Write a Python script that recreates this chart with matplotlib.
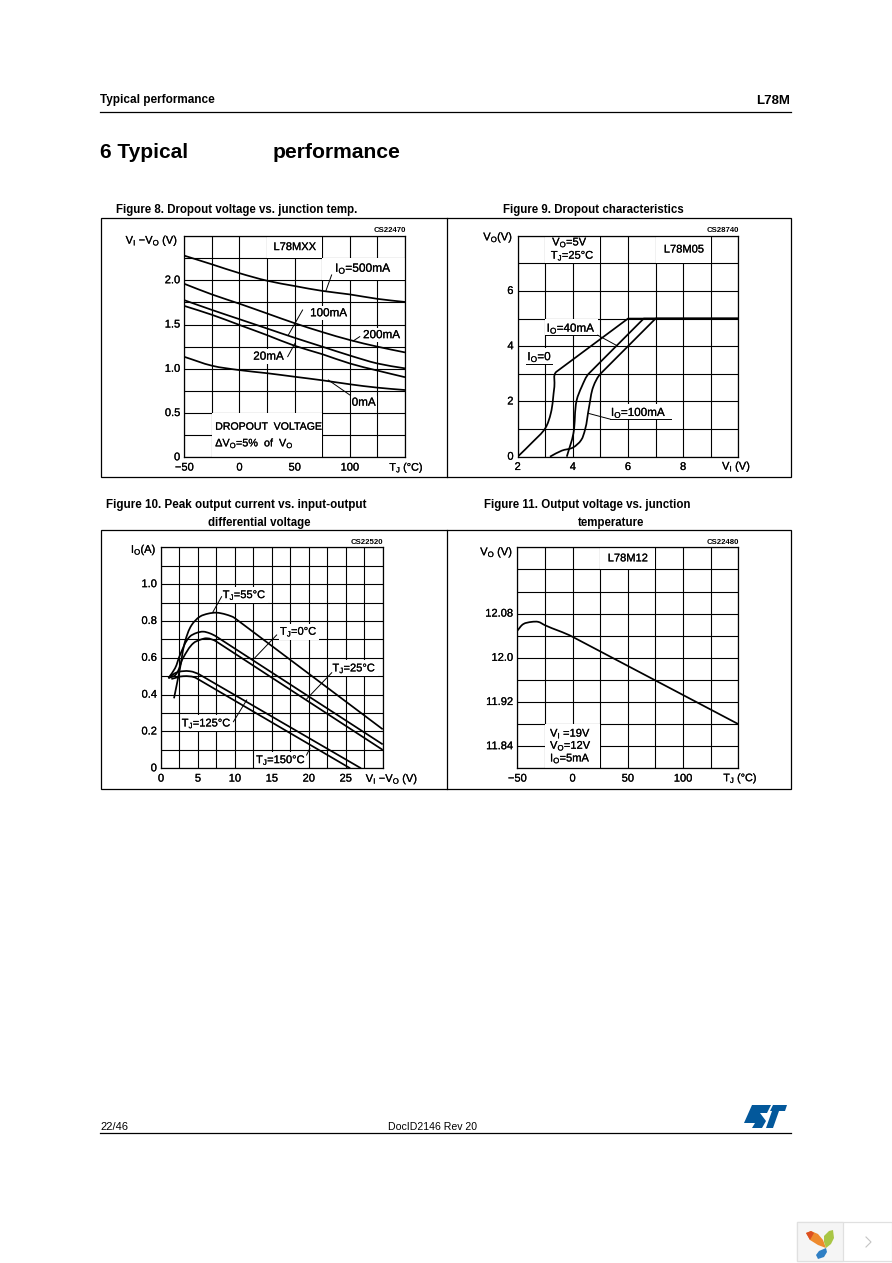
import matplotlib
matplotlib.use("Agg")
import matplotlib.pyplot as plt
import matplotlib.patheffects as pe
import numpy as np
from matplotlib.path import Path
from matplotlib.patches import Rectangle, Polygon, PathPatch

plt.rcParams["font.family"] = ["Liberation Sans", "DejaVu Sans"]
plt.rcParams["mathtext.default"] = "regular"

W, H = 892, 1263
HEAVY = [pe.withStroke(linewidth=0.15, foreground="black")]

# Figure 8
f8_x = [-50, -25, 0, 25, 50, 75, 100, 125, 150]
f8_500 = [2.278, 2.18, 2.08, 1.995, 1.935, 1.88, 1.84, 1.79, 1.755]
f8_200 = [1.96, 1.84, 1.735, 1.625, 1.515, 1.415, 1.325, 1.25, 1.185]
f8_100 = [1.775, 1.665, 1.56, 1.455, 1.35, 1.25, 1.15, 1.06, 1.005]
f8_20 = [1.71, 1.61, 1.495, 1.38, 1.26, 1.165, 1.06, 0.98, 0.905]
f8_0 = [1.135, 1.035, 0.985, 0.95, 0.91, 0.87, 0.825, 0.787, 0.76]

# Figure 9
f9_0_x = [2, 2.53, 3.0, 3.2, 3.33, 3.41, 6, 10]
f9_0_y = [0, 0.52, 1.03, 1.57, 2.53, 3.08, 5, 5]
f9_40_x = [3.78, 4.02, 4.14, 4.32, 4.59, 6.57, 10]
f9_40_y = [0, 0.84, 2.05, 2.53, 3.02, 5, 5]
f9_100_x = [3.17, 3.6, 4.0, 4.3, 4.44, 4.59, 4.74, 5.02, 7, 10]
f9_100_y = [0, 0.22, 0.33, 0.6, 0.97, 1.81, 2.53, 3.02, 5, 5]

# Figure 10
f10_55_x = [1.76, 2.57, 3.25, 4.15, 5.28, 6.4, 7.5, 8.8, 10, 30]
f10_55_y = [0.38, 0.543, 0.688, 0.778, 0.824, 0.84, 0.845, 0.835, 0.815, 0.212]
f10_0_x = [1, 1.9, 2.57, 3.9, 4.8, 5.7, 6.6, 7.5, 30]
f10_0_y = [0.49, 0.543, 0.615, 0.715, 0.735, 0.742, 0.733, 0.715, 0.13]
f10_25_x = [1, 1.9, 3, 4.4, 5.3, 6.2, 7.5, 30]
f10_25_y = [0.49, 0.505, 0.6, 0.68, 0.698, 0.706, 0.688, 0.1]
f10_125_x = [1, 2.1, 3.9, 5.3, 27.07]
f10_125_y = [0.49, 0.52, 0.527, 0.507, 0]
f10_150_x = [1.4, 3, 4.8, 25.6]
f10_150_y = [0.485, 0.5, 0.489, 0]

# Figure 11
f11_x = [-50, -44.6, -37, -31, -25, 0, 150]
f11_y = [12.049, 12.061, 12.065, 12.065, 12.059, 12.038, 11.88]

fig = plt.figure(figsize=(W / 100, H / 100), dpi=100)

# page layer, in pixels
page = fig.add_axes([0, 0, 1, 1])
page.set_xlim(0, W)
page.set_ylim(H, 0)
page.axis("off")


def chart(x0, y0, x1, y1, xlim, ylim, xstep, ystep, xticks, xlabels, yticks, ylabels):
    ax = fig.add_axes([x0 / W, 1 - y1 / H, (x1 - x0) / W, (y1 - y0) / H])
    ax.patch.set_alpha(0)
    ax.set_xlim(*xlim)
    ax.set_ylim(*ylim)
    nx = round((xlim[1] - xlim[0]) / xstep)
    ny = round((ylim[1] - ylim[0]) / ystep)
    ax.set_xticks([xlim[0] + i * xstep for i in range(nx + 1)])
    ax.set_yticks([ylim[0] + i * ystep for i in range(ny + 1)])
    ax.set_xticklabels([])
    ax.set_yticklabels([])
    ax.tick_params(length=0)
    ax.grid(True, color="black", lw=0.8, zorder=1)
    ax.set_axisbelow(True)
    for s in ax.spines.values():
        s.set_linewidth(0.9)
        s.set_zorder(5)
    for t, l in zip(xticks, xlabels):
        ax.annotate(l, (t, ylim[0]), xytext=(0, -7.4), textcoords="offset points", ha="center", va="center",
                    fontsize=8, annotation_clip=False, path_effects=HEAVY)
    for t, l in zip(yticks, ylabels):
        ax.annotate(l, (xlim[0], t), xytext=(-3, 0), textcoords="offset points", ha="right", va="center",
                    fontsize=8, annotation_clip=False, path_effects=HEAVY)
    return ax


def mask(ax, x0, x1, y0, y1):
    ax.add_patch(Rectangle((x0, y0), x1 - x0, y1 - y0, fc="white", ec="none", zorder=2))


def label(ax, x, y, s, size=8.4, ha="left", box=True):
    kw = {}
    if box:
        kw["bbox"] = dict(fc="white", ec="none", pad=0.8)
    ax.text(x, y, s, fontsize=size, ha=ha, va="center", zorder=4, path_effects=HEAVY, clip_on=False, **kw)


def curve(ax, x, y):
    # rounded through the read points, long straight runs stay straight
    p = ax.transAxes.inverted().transform(ax.transData.transform(np.column_stack([x, y])))
    d = np.diff(p, axis=0)
    n = np.hypot(d[:, 0], d[:, 1])
    tan = []
    for i in range(len(p)):
        if i == 0:
            t = d[0]
        elif i == len(p) - 1:
            t = d[-1]
        elif n[i] > 0.2:
            t = d[i]
        elif n[i - 1] > 0.2:
            t = d[i - 1]
        else:
            t = d[i - 1] / n[i - 1] + d[i] / n[i]
        tan.append(t / np.hypot(*t))
    verts = [p[0]]
    codes = [Path.MOVETO]
    for i in range(len(d)):
        if n[i] > 0.2:
            verts.append(p[i + 1])
            codes.append(Path.LINETO)
        else:
            verts += [p[i] + tan[i] * n[i] / 3, p[i + 1] - tan[i + 1] * n[i] / 3, p[i + 1]]
            codes += [Path.CURVE4] * 3
    ax.add_patch(PathPatch(Path(verts, codes), fc="none", ec="black", lw=1.25, zorder=3,
                           transform=ax.transAxes, joinstyle="round"))


def leader(ax, x, y):
    ax.plot(x, y, color="black", lw=0.7, zorder=4.5, clip_on=False)


# header and footer
page.text(100, 100.5, "Typical performance", fontsize=8.5, fontweight="bold", va="center")
page.text(790, 100.5, "L78M", fontsize=9.5, fontweight="bold", va="center", ha="right")
page.plot([100, 791], [112, 112], color="black", lw=0.9)
page.text(100.5, 153, "6 Typical", fontsize=15, fontweight="bold", va="center")
page.text(273, 153, "performance", fontsize=15.2, fontweight="bold", va="center")
page.text(100, 1126.5, "22/46", fontsize=8, va="center")
page.text(433, 1126.5, "DocID2146 Rev 20", fontsize=7.6, va="center", ha="center")
page.plot([100, 791], [1132.5, 1132.5], color="black", lw=0.9)

# figure titles
page.text(237, 210.5, "Figure 8. Dropout voltage vs. junction temp.", fontsize=8.3, fontweight="bold", va="center", ha="center")
page.text(593, 210.5, "Figure 9. Dropout characteristics", fontsize=8.3, fontweight="bold", va="center", ha="center")
page.text(236, 505, "Figure 10. Peak output current vs. input-output", fontsize=8.4, fontweight="bold", va="center", ha="center")
page.text(259, 523, "differential voltage", fontsize=8.3, fontweight="bold", va="center", ha="center")
page.text(587, 505, "Figure 11. Output voltage vs. junction", fontsize=8.3, fontweight="bold", va="center", ha="center")
page.text(611, 523, "temperature", fontsize=8.3, fontweight="bold", va="center", ha="center")

# frames around the charts
page.add_patch(Rectangle((100.5, 218), 690, 259, fc="none", ec="black", lw=0.9))
page.add_patch(Rectangle((100.5, 530), 690, 259, fc="none", ec="black", lw=0.9))
page.plot([446.5, 446.5], [218, 477], color="black", lw=0.9)
page.plot([446.5, 446.5], [530, 789], color="black", lw=0.9)

page.text(406, 230.5, "CS22470", fontsize=5.6, fontweight="bold", ha="right", va="center")
page.text(739, 230.5, "CS28740", fontsize=5.6, fontweight="bold", ha="right", va="center")
page.text(383, 542, "CS22520", fontsize=5.6, fontweight="bold", ha="right", va="center")
page.text(739, 542, "CS22480", fontsize=5.6, fontweight="bold", ha="right", va="center")

# Figure 8
ax = chart(184.3, 236, 405, 457.3, (-50, 150), (0, 2.5), 25, 0.25,
           [-50, 0, 50, 100], ["\u221250", "0", "50", "100"],
           [0, 0.5, 1.0, 1.5, 2.0], ["0", "0.5", "1.0", "1.5", "2.0"])
mask(ax, 75, 150, 2.0, 2.25)
mask(ax, 25, 75, 2.25, 2.5)
mask(ax, -25, 75, 0, 0.5)
for s in [f8_500, f8_200, f8_100, f8_20, f8_0]:
    curve(ax, f8_x, s)
label(ax, 50, 2.375, "L78MXX", ha="center", box=False, size=8)
label(ax, 86.6, 2.135, "$I_O$=500mA", box=False, size=8.6)
label(ax, 64, 1.627, "100mA")
label(ax, 112, 1.38, "200mA")
label(ax, 12.5, 1.137, "20mA")
label(ax, 101.7, 0.617, "0mA")
label(ax, -22, 0.346, "DROPOUT  VOLTAGE", box=False, size=7.6)
label(ax, -22, 0.158, "$\\Delta V_O$=5%  of  $V_O$", box=False, size=7.8)
leader(ax, [83.5, 78.4], [2.06, 1.883])
leader(ax, [57.2, 44.3], [1.664, 1.382])
leader(ax, [109, 103], [1.363, 1.314])
leader(ax, [43.7, 50.3], [1.137, 1.288])
leader(ax, [100, 80.5], [0.704, 0.873])
label(ax, -55.4, 2.447, "$V_I$ \u2212$V_O$ (V)", ha="right", box=False, size=8)
label(ax, 135.8, -0.117, "$T_J$ (\u00b0C)", box=False, size=7.8)

# Figure 9
ax = chart(517.7, 235.7, 738.3, 456.7, (2, 10), (0, 8), 1, 1,
           [2, 4, 6, 8], ["2", "4", "6", "8"],
           [0, 2, 4, 6], ["0", "2", "4", "6"])
mask(ax, 3, 5, 7, 8)
mask(ax, 7, 9, 7, 8)
mask(ax, 3, 4.9, 4.4, 5)
mask(ax, 2.3, 3.2, 3.35, 3.95)
mask(ax, 5.35, 7.55, 1.36, 1.9)
curve(ax, f9_0_x, f9_0_y)
curve(ax, f9_40_x, f9_40_y)
curve(ax, f9_100_x, f9_100_y)
label(ax, 3.25, 7.76, "$V_O$=5V", box=False, size=8)
label(ax, 3.2, 7.28, "$T_J$=25\u00b0C", box=False, size=8)
label(ax, 7.3, 7.5, "L78M05", box=False, size=8)
label(ax, 3.05, 4.65, "$I_O$=40mA", box=False)
label(ax, 2.35, 3.62, "$I_O$=0", box=False)
label(ax, 5.38, 1.6, "$I_O$=100mA", box=False)
leader(ax, [3.0, 4.9], [4.4, 4.4])
leader(ax, [2.3, 3.23], [3.35, 3.35])
leader(ax, [5.35, 7.55], [1.36, 1.36])
leader(ax, [4.9, 5.6], [4.4, 4.02])
leader(ax, [4.56, 5.35], [1.57, 1.36])
label(ax, 1.84, 7.94, "$V_O$(V)", ha="right", box=False, size=8)
label(ax, 9.94, -0.36, "$V_I$ (V)", ha="center", box=False, size=8)

# Figure 10
ax = chart(161, 547.3, 382.7, 768.3, (0, 30), (0, 1.2), 2.5, 0.1,
           [0, 5, 10, 15, 20, 25], ["0", "5", "10", "15", "20", "25"],
           [0, 0.2, 0.4, 0.6, 0.8, 1.0], ["0", "0.2", "0.4", "0.6", "0.8", "1.0"])
for cx, cy in [(f10_55_x, f10_55_y), (f10_0_x, f10_0_y), (f10_25_x, f10_25_y), (f10_125_x, f10_125_y), (f10_150_x, f10_150_y)]:
    curve(ax, cx, cy)
label(ax, 8.35, 0.941, "$T_J$=55\u00b0C", size=8)
label(ax, 16.1, 0.742, "$T_J$=0\u00b0C", size=8)
label(ax, 23.2, 0.543, "$T_J$=25\u00b0C", size=8)
label(ax, 2.8, 0.244, "$T_J$=125\u00b0C", size=8)
label(ax, 12.86, 0.045, "$T_J$=150\u00b0C", size=8)
leader(ax, [8.2, 7], [0.932, 0.847])
leader(ax, [15.65, 12.7], [0.724, 0.60])
leader(ax, [23.1, 19.7], [0.519, 0.376])
leader(ax, [9.8, 11.6], [0.253, 0.371])
leader(ax, [19.7, 20.15], [0.072, 0.109])
label(ax, -0.59, 1.186, "$I_O$(A)", ha="right", box=False, size=8)
label(ax, 27.7, -0.058, "$V_I$ \u2212$V_O$ (V)", box=False, size=8)

# Figure 11
ax = chart(517.3, 547.3, 738.3, 768.3, (-50, 150), (11.80, 12.20), 25, 0.04,
           [-50, 0, 50, 100], ["\u221250", "0", "50", "100"],
           [11.84, 11.92, 12.0, 12.08], ["11.84", "11.92", "12.0", "12.08"])
mask(ax, 25, 75, 12.16, 12.2)
mask(ax, -25, 25, 11.80, 11.88)
curve(ax, f11_x, f11_y)
label(ax, 50, 12.18, "L78M12", ha="center", box=False, size=8)
label(ax, -20.4, 11.863, "$V_I$ =19V", box=False, size=8)
label(ax, -20.4, 11.841, "$V_O$=12V", box=False, size=8)
label(ax, -20.4, 11.818, "$I_O$=5mA", box=False, size=8)
label(ax, -53.6, 12.191, "$V_O$ (V)", ha="right", box=False, size=8)
label(ax, 136.4, 11.782, "$T_J$ (\u00b0C)", box=False, size=7.8)

# ST logo
st = "#03589b"
page.add_patch(Polygon([(752, 1105), (771, 1105), (767, 1113), (760, 1113), (766, 1121), (762, 1128), (752, 1128), (755, 1123), (744, 1123)], fc=st, ec="none"))
page.add_patch(Polygon([(773, 1105), (787, 1105), (785, 1111), (779, 1111), (773, 1128), (766, 1128), (772, 1111), (770, 1111)], fc=st, ec="none"))

# widget in the corner
page.add_patch(Rectangle((796.5, 1221.5), 95, 39, fc="white", ec="#e0e0e0", lw=0.9))
page.add_patch(Rectangle((796.5, 1221.5), 46, 39, fc="#f5f5f5", ec="#e0e0e0", lw=0.9))
page.add_patch(Polygon([(806, 1233), (811, 1231), (818, 1234), (823, 1240), (826, 1248), (818, 1245), (810, 1240)], fc="#ee8a2d", ec="none"))
page.add_patch(Polygon([(806, 1233), (811, 1231), (814, 1233), (810, 1240)], fc="#dd4f22", ec="none"))
page.add_patch(Polygon([(824, 1236), (829, 1231), (833, 1230), (834, 1238), (831, 1244), (826, 1248), (824, 1242)], fc="#a9c645", ec="none"))
page.add_patch(Polygon([(826, 1248), (827, 1252), (824, 1257), (818, 1259), (816, 1255), (819, 1251)], fc="#2f7fc4", ec="none"))
page.plot([866, 871, 866], [1237, 1242, 1247], color="#c4c4c4", lw=0.8)

fig.savefig("out.png", dpi=100)
